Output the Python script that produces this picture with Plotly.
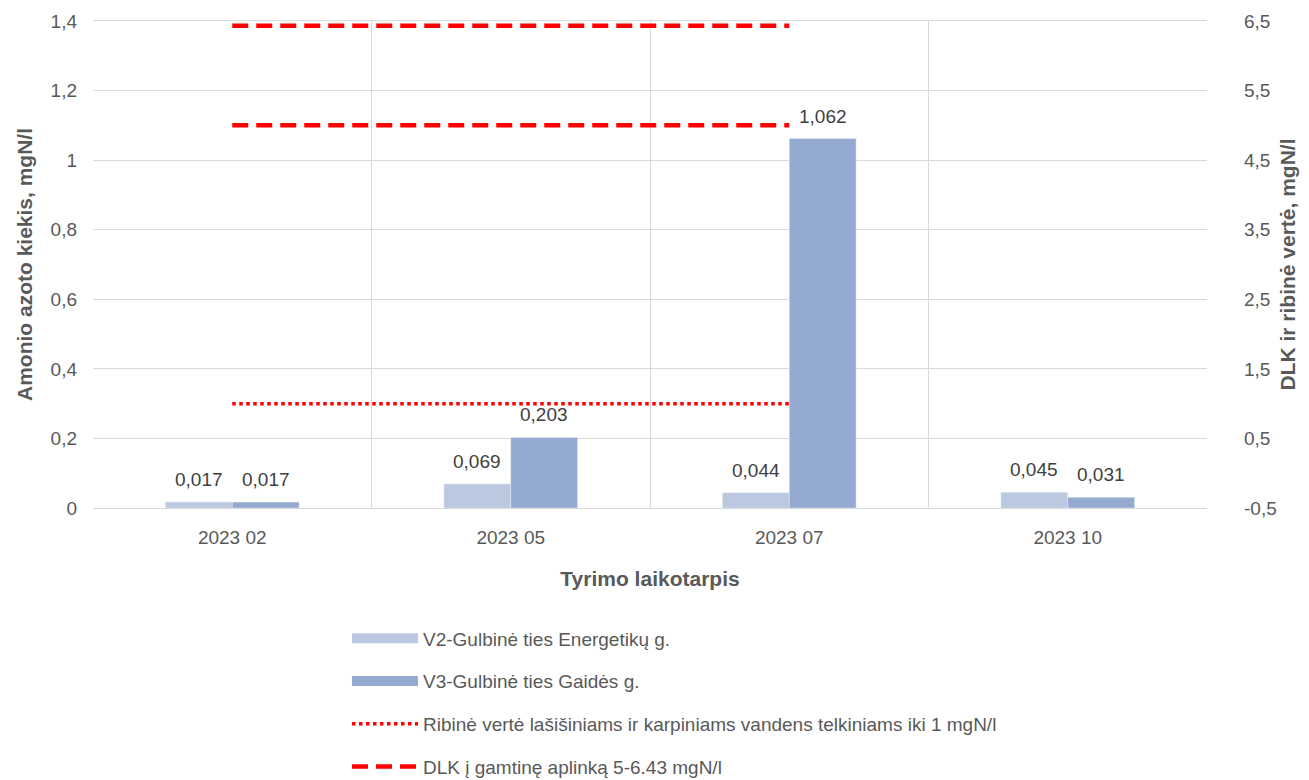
import plotly.graph_objects as go

# data
periods = ["2023 02", "2023 05", "2023 07", "2023 10"]
v2_values = [0.017, 0.069, 0.044, 0.045]
v3_values = [0.017, 0.203, 1.062, 0.031]

limit_periods = ["2023 02", "2023 05", "2023 07"]
ribine = [1, 1, 1]
dlk_low = [5, 5, 5]
dlk_high = [6.43, 6.43, 6.43]

right_ticks = [-0.5, 0.5, 1.5, 2.5, 3.5, 4.5, 5.5, 6.5]
right_labels = ["-0,5", "0,5", "1,5", "2,5", "3,5", "4,5", "5,5", "6,5"]

name_v2 = "V2-Gulbinė ties Energetikų g."
name_v3 = "V3-Gulbinė ties Gaidės g."
name_rib = "Ribinė vertė lašišiniams ir karpiniams vandens telkiniams iki 1 mgN/l"
name_dlk = "DLK į gamtinę aplinką 5-6.43 mgN/l"

c_v2 = "#BCC8E0"
c_v3 = "#95AAD1"
grey = "#595959"
FONT = "Liberation Sans, Arial"
BARGAP = 0.52

fig = go.Figure()

# bars (left axis)
for vals, col, nm in ((v2_values, c_v2, name_v2), (v3_values, c_v3, name_v3)):
    fig.add_trace(go.Bar(x=periods, y=vals, marker_color=col, name=nm,
                         showlegend=False))

# value labels a little above the bars, like excel does
half = (1 - BARGAP) / 4
for i in range(len(periods)):
    for vals, off in ((v2_values, -half), (v3_values, half)):
        fig.add_annotation(x=i + off, y=vals[i], text=f"{vals[i]:.3f}".replace(".", ","),
                           showarrow=False, yanchor="bottom", yshift=10,
                           font=dict(size=19, color="#404040"))

# limit lines (right axis)
fig.add_trace(go.Scatter(x=limit_periods, y=ribine, mode="lines", yaxis="y2",
                         line=dict(color="#FF0000", width=3.5, dash="dot"),
                         showlegend=False))
for vals in (dlk_low, dlk_high):
    fig.add_trace(go.Scatter(x=limit_periods, y=vals, mode="lines", yaxis="y2",
                             line=dict(color="#FF0000", width=4.5, dash="16px,8px"),
                             showlegend=False))

# legend entries drawn as wide strokes like the original
legend_items = [
    (name_v2, dict(color=c_v2, width=12)),
    (name_v3, dict(color=c_v3, width=12)),
    (name_rib, dict(color="#FF0000", width=3.5, dash="dot")),
    (name_dlk, dict(color="#FF0000", width=4.5, dash="16px,8px")),
]
for i, (nm, ln) in enumerate(legend_items):
    fig.add_trace(go.Scatter(x=[None], y=[None], mode="lines", name=nm, line=ln,
                             legendgroup=f"g{i}", showlegend=True))

# page body adds an 8px offset, margins compensate for it
fig.update_layout(
    width=1309, height=780,
    margin=dict(l=85, r=110, t=13, b=280, autoexpand=False),
    paper_bgcolor="white", plot_bgcolor="white",
    separators=", ",
    font=dict(family=FONT, size=19, color=grey),
    barmode="group", bargap=BARGAP, bargroupgap=0,
    xaxis=dict(type="category", tickson="boundaries", showgrid=True,
               gridcolor="#D9D9D9", gridwidth=1.3, ticks="", automargin=False,
               showline=True, linecolor="#D9D9D9", linewidth=1.3, mirror=True,
               tickfont=dict(size=19, color=grey), ticklabelstandoff=12,
               title=dict(text="<b>Tyrimo laikotarpis</b>", standoff=24,
                          font=dict(size=21, color=grey))),
    yaxis=dict(range=[0, 1.4], dtick=0.2, showgrid=True, gridcolor="#D9D9D9",
               gridwidth=1.3, zeroline=False, showline=False, automargin=False,
               tickfont=dict(size=19, color=grey), ticklabelstandoff=15,
               title=dict(text="<b>Amonio azoto kiekis, mgN/l</b>", standoff=12,
                          font=dict(size=21, color=grey))),
    yaxis2=dict(range=[-0.5, 6.5], tickvals=right_ticks, ticktext=right_labels,
                overlaying="y", side="right", automargin=False,
                showgrid=False, zeroline=False, showline=False,
                tickfont=dict(size=19, color=grey), ticklabelstandoff=36,
                title=dict(text="<b>DLK ir ribinė vertė, mgN/l</b>", standoff=4,
                           font=dict(size=21, color=grey))),
    legend=dict(x=0.228, xanchor="left", y=0.216, yref="container", yanchor="top",
                orientation="v", tracegroupgap=15, itemwidth=66,
                font=dict(size=19, color=grey), bgcolor="rgba(0,0,0,0)"),
)

fig.write_html("out.html")
